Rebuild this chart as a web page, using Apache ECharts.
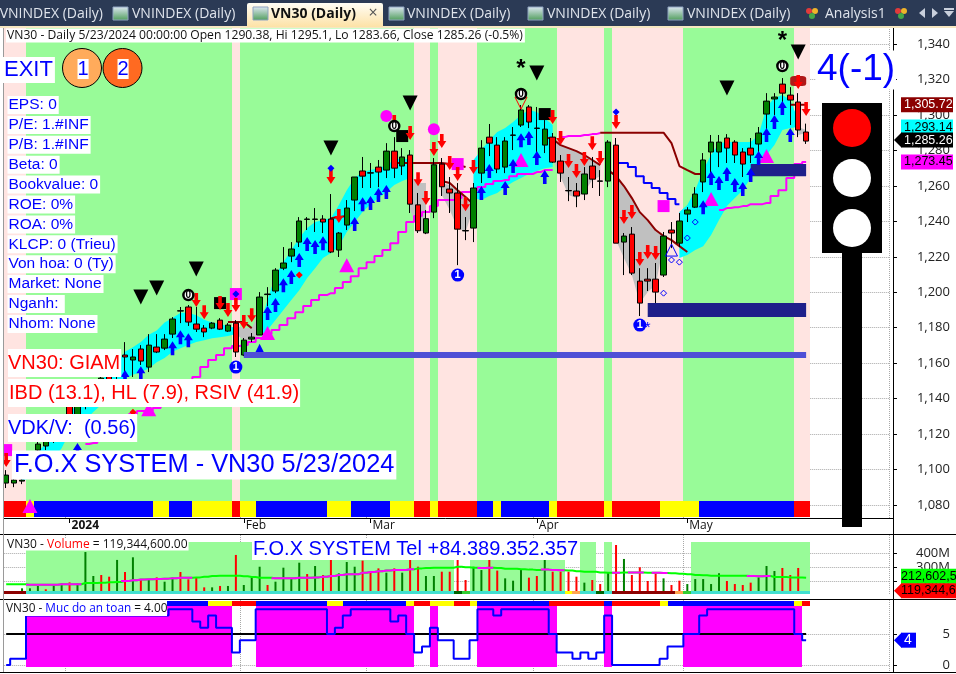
<!DOCTYPE html>
<html>
<head>
<meta charset="utf-8">
<title>VN30 Daily</title>
<script src="https://cdn.jsdelivr.net/npm/echarts@6/dist/echarts.min.js"></script>
<style>
html, body { margin: 0; padding: 0; background: #fff; }
#chart { width: 956px; height: 674px; }
</style>
</head>
<body>
<div id="chart"></div>
<script>
// price (bars 3-14 sit behind the text boxes, estimated)
const opens = [1092.4,1092.4,1093.5,1098.6,1111,1113.3,1117.8,1121.2,1136.4,1130.2,1136.4,1140.3,1143.7,1153.9,1152.7,1164.6,1161.8,1168,1157.8,1169.1,
	1168.5,1176.4,1189.4,1191.7,1182.1,1179.8,1179.8,1184.3,1178.1,1182.6,1164.6,1173.6,1175.9,1198.7,1200.7,1213.6,1220.4,1228.3,1241.1,1241.1,
	1241.3,1241.3,1223.8,1237.9,1252,1268.4,1267.2,1270.6,1268.9,1279.6,1271.2,1277.4,1249.3,1233.4,1245.2,1272.3,1258.2,1256,1234.6,1236.2,
	1267.2,1287.5,1283,1270.6,1288.5,1294.3,1304.5,1292.4,1283,1287.5,1274,1257.2,1257.1,1255.4,1271.2,1262.6,1262.7,1283,1228.3,1232.8,
	1206.3,1207.4,1207.4,1209.7,1235.1,1227.7,1244.1,1248,1262.2,1279.1,1279.1,1287,1284.7,1279.1,1281.3,1283.6,1300.5,1309,1317.4,1311.2,1307.3,1290.38];
const closes = [1096.9,1094.1,1094.1,1102,1114.4,1116.6,1121.2,1127.9,1129,1138,1142,1147.7,1151.6,1148.2,1161.8,1163.5,1163.5,1161.2,1170.2,1166.3,
	1173.6,1184.9,1189.6,1183.2,1179.2,1177.6,1182.6,1179.2,1181.5,1166.3,1173,1174.7,1197.3,1199,1212.5,1216.5,1224.4,1240.2,1241.3,1241.3,
	1239.6,1222.7,1233.4,1247.5,1265,1265.5,1267.4,1267.8,1279.6,1270,1276.3,1249.7,1234.7,1241.5,1271.9,1259.5,1256,1235.6,1234.8,1258.8,
	1281.3,1284.1,1269.5,1285.3,1288.7,1302.8,1296,1292.6,1292,1273.4,1267.2,1257.4,1254.3,1266.7,1263.8,1262.8,1284.7,1227.7,1231.7,1210.8,
	1193.9,1206.3,1200.1,1231.7,1233.4,1240.2,1246.4,1255.4,1274.6,1284.7,1284.7,1281.3,1277.4,1272.3,1277.4,1289.8,1307.8,1310.1,1312.3,1308.4,1291.5,1285.26];
const lows = [1089.6,1090.1,1091.8,1096,1108,1111,1115,1119,1126,1128,1134,1138,1141,1145,1150,1152.2,1152.2,1159,1155,1165.7,
	1167.4,1174.2,1182.6,1181,1177.6,1174.7,1179.2,1178.7,1177.6,1163.5,1164,1171.9,1175.9,1192.2,1199.5,1212.5,1217,1225.5,1235.1,1234,
	1233.4,1222.1,1219.9,1235.1,1245.8,1258.8,1258.8,1259.3,1264.4,1264.4,1266.1,1244.7,1233.4,1232.8,1241.8,1254.3,1244.7,1215.3,1229.4,1228.3,
	1261.6,1276.8,1267.2,1267.2,1280.2,1293.2,1292.6,1278.5,1278.5,1272.9,1262.2,1251.4,1248,1252,1258.8,1254.3,1259.3,1227.7,1209.7,1209.7,
	1186.6,1200.7,1191.7,1208.6,1224.9,1225.5,1239.6,1247.5,1256.5,1267.2,1270.6,1272.9,1272.9,1265,1272.9,1277.4,1289.8,1300,1307.3,1294.3,1287.5,1283.66];
const highs = [1099.7,1095.8,1096.3,1105,1116,1119,1123,1130,1139,1140,1144,1150,1153,1156,1164,1171.9,1168,1170.2,1176.4,1176.4,
	1176.4,1186,1191.7,1192.8,1191.7,1181.5,1183.2,1185.4,1182.6,1184.3,1174.2,1177,1200.1,1202.9,1213.6,1225.5,1228.3,1242.4,1242.4,1247.5,
	1243.5,1255.4,1234,1252,1265,1276.3,1272.9,1274.6,1284.1,1287.5,1281.3,1280.2,1256,1246.4,1275.7,1275.7,1265,1261.6,1242.4,1261.6,
	1285.8,1294.9,1287.5,1287.5,1293.2,1305.6,1305.6,1304.5,1297.1,1289.8,1277.4,1265,1261.6,1270.6,1276.3,1268.9,1285.8,1287,1233.4,1236.8,
	1213.6,1213.6,1216.5,1234,1239.6,1244.7,1248,1259.3,1278.5,1288.7,1288.7,1289.2,1285.8,1281.3,1287,1293.2,1312.3,1312.3,1320.8,1315.7,1312.3,1295.1];

// volume in millions
const volumes = [110,110,147,147,164,140,178,183,190,183,409,236,243,231,352,265,371,212,212,226,
	195,226,265,212,224,154,154,164,164,388,171,226,303,171,195,296,219,332,250,308,
	243,352,255,337,303,347,267,291,260,291,260,352,303,236,236,267,267,352,207,303,
	279,352,275,219,202,279,224,236,352,267,267,267,231,188,207,178,260,460,359,243,
	299,200,260,219,171,202,178,214,214,178,255,200,178,171,188,226,308,272,294,243,294,119.34];
const volumeSide = 'gggggrggrgggrrgrgrgrggrrrrgrgrgggrggggrgrrgggrrrgrgrrggrrrrggrrgggrrgrrrrgrrgrgrrrrgrrgggggrrrrgggrrrr'.split('');
const volumeMa = [176,176,176,173,173,173,173,176,176,176,185.5,185.5,188,190,193,200,205,210,212,214,
	217,219,224,224,226,231,236,238,238,238,234,229,224,224,219,219,219,224,224,226,
	231,236,243,248,248,260,265,270,275,279,279,284,291,294,296,296,296,303,299,296,
	294,296,294,289,289,284,282,279,282,279,277,275,270,267,267,262,260,260,262,262,
	262,260,260,258,255,253,248,243,241,238,238,238,238,238,236,234,236,229,229,226,226,224];
const volumeMaPinkRuns = [[3,9],[15,23],[34,51],[60,61],[68,68],[69,70],[77,77],[79,80],[82,83],[94,96]];

// safety level per bar
const safetyLevel = [0,1,1,8,8,8,8,8,8,8,8,8,8,8,8,8,8,8,8,8,
	8,9,9,9,7,6,8,6,6,2,4,4,9,9,9,9,9,9,9,9,
	9,5,6,8,9,9,9,9,9,7,8,5,2,3,6,4,4,1,1,4,
	9,9,8,9,9,9,9,9,9,5,2,2,1,2,1,2,8,0,0,0,
	0,0,0,1,3,3,5,5,8,9,9,9,9,9,9,9,9,9,9,9,5,4];

// regime strips, as [code, number of bars]
const mainBandRuns = [['P',3],['G',26],['P',1],['G',22],['P',2],['G',1],['P',5],['G',10],['P',6],['G',1],['P',9],['G',14],['P',2]];
const mainStripRuns = [['R',3],['Y',1],['B',15],['Y',2],['B',3],['Y',5],['R',1],['Y',2],['B',9],['Y',3],['B',5],['Y',3],['R',2],['Y',1],['R',5],['B',2],['Y',1],['B',6],['Y',1],['R',6],['Y',1],['R',6],['Y',5],['B',12],['R',2]];
const volumeBandRuns = [['W',3],['G',54],['W',2],['G',12],['W',2],['G',2],['W',1],['G',1],['W',10],['G',15]];
const volumeStripRuns = [['N',3],['T',54],['K',1],['L',1],['T',12],['Y',1],['O',1],['T',2],['K',1],['T',1],['N',8],['O',1],['L',1],['T',15]];
const safetyStripRuns = [['R',3],['B',23],['Y',3],['R',3],['B',9],['Y',2],['B',8],['Y',1],['R',2],['Y',3],['R',2],['Y',1],['B',9],['R',7],['B',1],['R',6],['Y',1],['B',16],['Y',1],['R',1]];

// cloud around the candles: [first bar, upper edge, lower edge]
const cyanClouds = [
	[2,[1095,1102,1110,1114.5,1119,1123.5,1132.5,1136.5,1140.5,1145,1150.5,1155,1160.5,1166.5,1169,1172,1176,1178.5,1183,1185.5,1188.5,1188.5,1187,1184.5,1183,1182,1181,1179.8],
		[1094,1095,1098.5,1102.5,1106.5,1112,1121,1123.5,1128,1132.5,1136.5,1142,1147.5,1151.5,1153.5,1155,1157,1160.5,1163,1166.5,1168.5,1170.2,1172,1173,1174,1174.7,1175.3,1176.4]],
	[32,[1181.5,1195.6,1209.7,1217,1223.8,1230.6,1236.2,1239.6,1240.7,1241.8,1249.2,1257.6,1264.4,1267.8,1268.9,1270,1271.7,1274.6,1275.7,1274.6],
		[1175.3,1178.7,1184.3,1190,1195.6,1201.2,1208,1213.6,1219.3,1222.1,1226,1234,1239.6,1245.2,1249.7,1253.1,1256.5,1260.5,1262.7,1264.4]],
	[59,[1274.6,1280.2,1285.8,1290.4,1292.6,1296,1300,1302.8,1301.6,1298.2,1294.3],
		[1253.1,1252,1254.3,1256,1259.3,1262.2,1264.4,1266.7,1268.4,1270,1270.6]],
	[85,[1245.2,1249.2,1257.6,1268.9,1277.4,1284.1,1284.7,1284.7,1284.7,1284.7,1288.7,1304.5,1309.5,1311.2,1308.4,1297.1],
		[1219.3,1221,1223.8,1226,1232.3,1240.7,1248.6,1253.1,1257.6,1264.4,1271.7,1277.4,1283,1291.5,1292.6,1293.2]]
];
const greyClouds = [
	[29,[1181,1179.8,1179.8,1188.8],[1176.4,1173,1173,1175.3]],
	[51,[1266.1,1261.6,1261.6],[1246.4,1235,1234]],
	[55,[1261.6,1260.5,1257.6,1253.7,1249.2],[1254.8,1246.4,1236.2,1234,1247.5]],
	[69,[1286.4,1283,1281.3,1279.6,1277.4,1274.6,1271.7],[1274.6,1265,1254.8,1253.1,1256.5,1263.3,1265.5]],
	[77,[1265.5,1259.9,1253.1,1245.2,1240.7,1235.1,1231.7],[1229.4,1219.3,1209.7,1193.9,1200.1,1204.1,1226.6]],
	[100,[1293.2,1291.5],[1288.7,1289.8]]
];

// lines: [first bar, values]
const stopRuns = [
	[28,[1183.2,1183.2,1183.2,1179.8]],
	[41,[1241.8,1242.4,1243]],
	[49,[1272.9,1272.9,1272.9,1272.9,1272.9,1272.9,1272.9,1272.3,1271.7,1270.6]],
	[55,[1262.7,1261.6,1257.6,1253.7,1249.7]],
	[68,[1287.5,1286.4,1283,1281.3,1279.6,1277.4,1274.6,1271.7]],
	[76,[1268.9,1265.5,1259.9,1253.1,1245.2,1240.7,1235.1,1231.7,1229.4,1226,1222.7]],
	[75,[1290,1290,1290,1290,1290,1290,1290,1290,1290,1284.1,1271.2,1268.9,1266.7,1266.7]],
	[99,[1305.72,1305.72,1305.72]]
];
const trailRuns = [
	[10,[1114.4,1115,1116.6,1121.2,1123.4,1127.9,1131.3,1133,1133,1134.7,1137,1140.3,1143.7,1147.7,1152.2,1157.8,1161.8,1164.6,1168.5,1169.7,
		1170.2,1171.9,1174.2,1176.4,1178.7,1181.5,1185.4,1188.8,1192.2,1195.6,1198.4,1199.5,1202.4,1205.8,1209.1,1213.6,1217,1220.4,1223.8,1227.7,
		1234,1239.6,1243,1245.2,1248.6,1252,1252,1253.1,1256.5,1257.6,1259.3,1261,1262.7,1263.3,1265.5,1266.7,1266.7,1267.8,1268.9,1268.9]],
	[70,[1287.5,1288.1,1288.1,1288.7,1289.2,1289.8]],
	[90,[1246.4,1247.5,1248,1248.6,1249.7,1249.7,1250.3,1254.3,1257.6,1264.4,1272.3,1273.45]]
];
const blueStepStart = 77;
const blueStep = [1272.9,1272.9,1270.6,1265.5,1261.6,1258.8,1256,1252.6,1249.7];

// support zones: [first bar, last bar, top, bottom]
const zones = [[30,101,1166.3,1162.9],[81,101,1193.9,1186],[94,101,1272.3,1265.5]];

// signals: [bar, price]
const buyArrows = [[9,1111],[15,1152.2],[17,1154.4],[21,1168.5],[22,1174.7],[23,1173],[33,1188.3],[34,1192.8],[35,1204],[36,1208.6],[37,1218.2],[38,1227.2],[39,1225.5],[40,1227.7],[44,1238.5],[45,1249.7],[46,1250.3],[47,1254.8],[48,1256.5],
	[60,1256],[61,1268.4],[63,1258.8],[64,1271.2],[65,1285.8],[66,1287],[67,1275.7],[68,1265],[88,1248],[89,1264.4],[90,1261.6],[91,1266.7],[92,1260.5],[93,1258.2],[94,1266.1],[95,1275.7],[96,1288.7],[97,1296],[98,1303.9],[99,1288.7]];
const sellArrows = [[0,1105.4],[24,1195.6],[25,1188.8],[27,1193.9],[28,1190],[29,1192.8],[30,1183.2],[31,1187.1],[41,1265],[42,1243],[49,1296],[51,1289.8],[52,1263.8],[53,1253.1],[54,1280.8],[55,1285.3],[56,1272.9],[57,1266.7],[58,1249.7],[59,1270.6],
	[69,1298.8],[70,1287],[71,1274],[72,1268.4],[73,1275.1],[74,1284.1],[75,1275.7],[77,1296],[78,1242.4],[79,1245.2],[80,1218.7],[81,1222.7],[82,1222.1],[100,1318.6],[101,1303.3]];
const blackTriangles = [[17,1197.3],[19,1202.4],[24,1213.1],[41,1281.3],[51,1306.7],[67,1323.6],[91,1315.2],[100,1335.5]];
const zeroCircles = [[23,1198.4],[49,1293.7],[65,1311.8],[98,1327.6]];
const oneCircles = [[29,1157.8],[57,1209.7],[80,1181.5]];
const blackSquares = [[27,1193.9],[50,1288.1],[68,1300.5]];
const pinkSquares = [[0,1111],[29,1199],[57,1272.3],[83,1248.6]];
const pinkDots = [[48,1299.4],[54,1292]];
const pinkTriangles = [[3,1079.4],[18,1134.1],[33,1177],[43,1215.3],[65,1274.6],[89,1252.6],[96,1276.8]];
const stars = [[65,1328.7],[98,1344.5]];
const blueDiamonds = [[41,1270],[29,1199],[77,1301.6]];
const redDiamonds = [[16,1132.4],[37,1209.7]];
const hollowDiamonds = [[83,1199.5],[84,1218.2],[85,1217],[86,1230.6],[87,1239.6]];
const hollowBlueTriangles = [[84,1223.8]];
const hollowRedTriangles = [[65,1306.7]];
const smallBlueTriangles = [[32,1168.5]];
const blueFlakes = [[81,1181.5]];
const brickBoxes = [[100,1319.1]];

const monthTicks = {8: '2024', 30: 'Feb', 46: 'Mar', 67: 'Apr', 86: 'May'};
const priceTicks = [1080,1100,1120,1140,1160,1180,1200,1220,1240,1260,1280,1300,1320,1340];
const volumeTicks = [200,300,400];
const safetyTicks = [0,5];
const priceTags = [1305.72,1293.14,1285.26,1273.45];
const volumeTags = [212.6,119.34];

const infoLines = ['EPS: 0','P/E: 1.#INF','P/B: 1.#INF','Beta: 0','Bookvalue: 0','ROE: 0%','ROA: 0%','KLCP: 0 (Trieu)','Von hoa: 0 (Ty)','Market: None','Nganh: ','Nhom: None'];

const barCount = 112;
const bandWidth = 7.92;
const SANS = '"Liberation Sans", Arial, sans-serif';
const UI = '"Open Sans", sans-serif';
const palette = {
	P: '#ffe4e1', G: '#98fb98', R: '#ff0000', Y: '#ffff00', B: '#0000ff',
	T: '#40e0d0', N: '#8b0000', K: '#006400', L: '#32cd32', O: '#ffa54f', M: '#ff00ff'
};

const expand = function (runs) {
	let out = [];
	runs.forEach(function (r) {
		for (let k = 0; k < r[1]; k++) out.push(r[0]);
	});
	return out;
};

const categories = Array.from({length: barCount}, function (_, i) { return String(i); });
const showMonth = function (i) { return monthTicks[i] !== undefined; };

// a row of coloured cells, one per bar, stuck to the grid by pixel offsets
const stripSeries = function (gridIdx, codes, topPad, height, z) {
	return {
		type: 'custom',
		xAxisIndex: gridIdx,
		yAxisIndex: gridIdx,
		z: z,
		silent: true,
		data: codes.map(function (c, i) { return [i]; }),
		renderItem: function (params, api) {
			const color = palette[codes[params.dataIndex]];
			if (!color) return null;
			const cs = params.coordSys;
			const cx = api.coord([params.dataIndex, 0])[0];
			const x0 = Math.round(cx - bandWidth / 2);
			const x1 = Math.round(cx + bandWidth / 2);
			return {
				type: 'rect',
				shape: {x: x0, y: cs.y + topPad, width: x1 - x0, height: height < 0 ? cs.height + height - topPad : height},
				style: {fill: color}
			};
		}
	};
};

const cloudSeries = function (cloud, color) {
	return {
		type: 'custom',
		xAxisIndex: 0,
		yAxisIndex: 0,
		z: 3,
		silent: true,
		data: [[cloud[0]]],
		renderItem: function (params, api) {
			const start = cloud[0];
			const upper = cloud[1].map(function (v, k) { return api.coord([start + k, v]); });
			const lower = cloud[2].map(function (v, k) { return api.coord([start + k, v]); }).reverse();
			return {type: 'polygon', shape: {points: upper.concat(lower)}, style: {fill: color}};
		}
	};
};

const runLine = function (start, values, color, width, step, z) {
	return {
		type: 'line',
		xAxisIndex: 0,
		yAxisIndex: 0,
		z: z,
		silent: true,
		symbol: 'none',
		step: step,
		lineStyle: {color: color, width: width},
		data: values.map(function (v, k) { return [start + k, v]; })
	};
};

const marks = function (data, symbol, size, color, extra) {
	return Object.assign({
		type: 'scatter',
		xAxisIndex: 0,
		yAxisIndex: 0,
		z: 6,
		silent: true,
		symbol: symbol,
		symbolSize: size,
		itemStyle: {color: color, opacity: 1},
		data: data
	}, extra || {});
};

const ARROW = 'path://M4.5 0 L9 7 L6.3 7 L6.3 14 L2.7 14 L2.7 7 L0 7 Z';

const tagSeries = function (gridIdx, values, look) {
	return {
		type: 'custom',
		xAxisIndex: gridIdx,
		yAxisIndex: gridIdx,
		z: 9,
		silent: true,
		clip: false,
		data: values.map(function (v) { return [0, v]; }),
		renderItem: function (params, api) {
			const t = look[params.dataIndex];
			const y = api.coord([0, values[params.dataIndex]])[1] + (t.nudge || 0);
			const h = t.h || 15;
			const kids = [{
				type: 'rect',
				shape: {x: t.arrow ? 901 : t.x0 || 901, y: y - h / 2, width: t.w || 52, height: h},
				style: {fill: t.bg}
			}];
			if (t.arrow) {
				kids.push({type: 'polygon', shape: {points: [[894, y], [901.5, y - h / 2], [901.5, y + h / 2]]}, style: {fill: t.bg}});
			}
			kids.push({
				type: 'text',
				style: {text: t.text, x: t.tx || 904, y: y, fill: t.fg, font: (t.size || 12.5) + 'px ' + SANS, verticalAlign: 'middle', align: t.align || 'left'}
			});
			return {type: 'group', children: kids};
		}
	};
};

const priceTagLook = [
	{bg: '#8b0000', fg: '#fff', text: '1,305.72'},
	{bg: '#00ffff', fg: '#000', text: '1,293.14'},
	{bg: '#000', fg: '#fff', text: '1,285.26', arrow: true, nudge: -1},
	{bg: '#ff00ff', fg: '#000', text: '1,273.45'}
];
const volumeTagLook = [
	{bg: '#00ff00', fg: '#000', text: '212,602,5', nudge: -3, w: 56, tx: 901},
	{bg: '#ff0000', fg: '#000', text: '119,344,6', nudge: -1.5, w: 56, tx: 901, arrow: true}
];
const safetyTagLook = [
	{bg: '#0000ff', fg: '#fff', text: '4', arrow: true, w: 15, tx: 908, align: 'center', size: 14}
];

// ---- pixel boxes for the overlay texts
const box = function (text, x, y, font, fill, pad) {
	return {
		type: 'text',
		z: 100,
		style: {
			text: text, x: x, y: y, font: font, fill: fill,
			verticalAlign: 'middle', backgroundColor: '#fff', padding: pad || [2, 2, 2, 2]
		}
	};
};

const overlay = [];
// tab strip
overlay.push({type: 'rect', z: 90, shape: {x: 0, y: 0, width: 956, height: 26}, style: {fill: '#2b3a55'}});
overlay.push({type: 'rect', z: 90, shape: {x: 0, y: 26, width: 956, height: 2}, style: {fill: '#f6e7c1'}});
overlay.push({
	type: 'rect', z: 91, shape: {x: 247, y: 3, width: 136, height: 24, r: [2, 2, 0, 0]},
	style: {fill: new echarts.graphic.LinearGradient(0, 0, 0, 1, [{offset: 0, color: '#fffdf5'}, {offset: 1, color: '#fde2a6'}])}
});
[[113, 132], [389, 407], [528, 547], [668, 687]].forEach(function (t) {
	overlay.push({
		type: 'rect', z: 91, shape: {x: t[0], y: 7, width: 15, height: 13},
		style: {fill: new echarts.graphic.LinearGradient(0, 0, 0, 1, [{offset: 0, color: '#dfe8f5'}, {offset: 1, color: '#4f9d5a'}]), stroke: '#8fa3bf'}
	});
	overlay.push({type: 'text', z: 92, style: {text: 'VNINDEX (Daily)', x: t[1], y: 14, font: '14px ' + UI, fill: '#dfe4ec', verticalAlign: 'middle'}});
});
overlay.push({type: 'text', z: 92, style: {text: 'VNINDEX (Daily)', x: 103, y: 14, align: 'right', font: '14px ' + UI, fill: '#dfe4ec', verticalAlign: 'middle'}});
overlay.push({
	type: 'rect', z: 92, shape: {x: 253, y: 7, width: 15, height: 13},
	style: {fill: new echarts.graphic.LinearGradient(0, 0, 0, 1, [{offset: 0, color: '#dfe8f5'}, {offset: 1, color: '#4f9d5a'}]), stroke: '#8fa3bf'}
});
overlay.push({type: 'text', z: 92, style: {text: 'VN30 (Daily)', x: 271, y: 14, font: 'bold 14px ' + UI, fill: '#111', verticalAlign: 'middle'}});
overlay.push({type: 'text', z: 92, style: {text: '×', x: 373, y: 13, align: 'center', font: '16px ' + UI, fill: '#555', verticalAlign: 'middle'}});
[[806, 9], [895, 9]].forEach(function (t) {
	overlay.push({type: 'circle', z: 92, shape: {cx: t[0] + 3, cy: t[1] + 2, r: 3}, style: {fill: '#e23b3b'}});
	overlay.push({type: 'circle', z: 92, shape: {cx: t[0] + 9, cy: t[1] + 2, r: 3}, style: {fill: '#f0b429'}});
	overlay.push({type: 'circle', z: 92, shape: {cx: t[0] + 6, cy: t[1] + 7, r: 3}, style: {fill: '#45a847'}});
});
overlay.push({type: 'text', z: 92, style: {text: 'Analysis1', x: 825, y: 14, font: '14px ' + UI, fill: '#dfe4ec', verticalAlign: 'middle'}});
overlay.push({type: 'polygon', z: 92, shape: {points: [[925, 8], [925, 18], [919, 13]]}, style: {fill: '#c9d0dc'}});
overlay.push({type: 'polygon', z: 92, shape: {points: [[932, 8], [932, 18], [938, 13]]}, style: {fill: '#c9d0dc'}});
overlay.push({type: 'polygon', z: 92, shape: {points: [[944, 11], [954, 11], [949, 17]]}, style: {fill: '#c9d0dc'}});
overlay.push({type: 'rect', z: 92, shape: {x: 944, y: 8, width: 10, height: 2}, style: {fill: '#c9d0dc'}});

// frame
overlay.push({type: 'rect', z: 49, shape: {x: 0, y: 28, width: 4, height: 646}, style: {fill: '#fff'}});
[[0, 534, 956, 534], [0, 599, 956, 599], [0, 672, 956, 672], [889, 518, 894, 518]].forEach(function (l) {
	overlay.push({type: 'line', z: 50, shape: {x1: l[0], y1: l[1] + 0.5, x2: l[2], y2: l[3] + 0.5}, style: {stroke: '#000', lineWidth: 1}});
});
overlay.push({type: 'line', z: 50, shape: {x1: 893.5, y1: 28, x2: 893.5, y2: 672}, style: {stroke: '#000', lineWidth: 1}});
overlay.push({type: 'line', z: 50, shape: {x1: 3.5, y1: 28, x2: 3.5, y2: 672}, style: {stroke: '#9a9a9a', lineWidth: 1}});

// traffic light
overlay.push({type: 'rect', z: 60, shape: {x: 822, y: 103, width: 60, height: 150}, style: {fill: '#000'}});
overlay.push({type: 'rect', z: 60, shape: {x: 842, y: 253, width: 20, height: 274}, style: {fill: '#000'}});
overlay.push({type: 'circle', z: 61, shape: {cx: 852, cy: 128, r: 19}, style: {fill: '#ff0000'}});
overlay.push({type: 'circle', z: 61, shape: {cx: 852, cy: 178, r: 19}, style: {fill: '#fff'}});
overlay.push({type: 'circle', z: 61, shape: {cx: 852, cy: 228, r: 19}, style: {fill: '#fff'}});
overlay.push(box('4(-1)', 816, 70, '37px ' + SANS, '#0000ff', [1, 1, 1, 1]));

// header and labels
overlay.push(box('VN30 - Daily 5/23/2024 00:00:00 Open 1290.38, Hi 1295.1, Lo 1283.66, Close 1285.26 (-0.5%)', 6, 35.5, '12.15px ' + UI, '#111', [1, 2, 1, 1]));
overlay.push(box('EXIT', 3, 70, '22px ' + SANS, '#0000ff', [2, 2, 2, 1]));
overlay.push({type: 'circle', z: 99, shape: {cx: 82, cy: 68, r: 19.5}, style: {fill: '#ffab5b', stroke: '#000', lineWidth: 1}});
overlay.push({type: 'circle', z: 99, shape: {cx: 122.5, cy: 68, r: 19.5}, style: {fill: '#ff6a21', stroke: '#000', lineWidth: 1}});
overlay.push(box('1', 77.5, 69, '20px ' + SANS, '#0000ff', [0, 0, 0, 0]));
overlay.push(box('2', 117.5, 69, '20px ' + SANS, '#0000ff', [0, 0, 0, 0]));
infoLines.forEach(function (t, k) {
	overlay.push(box(t, 7.5, 105 + k * 19.9, '15.5px ' + SANS, '#0000ff', [1, 2, 1, 1]));
});
overlay.push(box('VN30: GIAM', 8, 363, '20px ' + SANS, '#ff0000', [4, 1, 4, 0]));
overlay.push(box('IBD (13.1), HL (7.9), RSIV (41.9)', 8, 393, '20px ' + SANS, '#ff0000', [4, 1, 4, 1]));
overlay.push(box('VDK/V:  (0.56)', 8, 428, '20px ' + SANS, '#0000ff', [4, 1, 4, 0]));
overlay.push(box('F.O.X SYSTEM - VN30 5/23/2024', 12, 465, '25.35px ' + SANS, '#0000ff', [2, 2, 2, 2]));
overlay.push(box('F.O.X SYSTEM Tel +84.389.352.357', 252, 549, '20px ' + SANS, '#0000ff', [1, 1, 1, 1]));
overlay.push({
	type: 'text', z: 100,
	style: {
		text: '{a|VN30 - }{r|Volume}{a| = 119,344,600.00}', x: 6, y: 544.5, verticalAlign: 'middle', backgroundColor: '#fff', padding: [0, 1, 0, 1],
		rich: {a: {font: '12px ' + UI, fill: '#111'}, r: {font: '12px ' + UI, fill: '#ff0000'}}
	}
});
overlay.push({type: 'rect', z: 99, shape: {x: 4, y: 600, width: 163, height: 16}, style: {fill: '#fff'}});
overlay.push({
	type: 'text', z: 100,
	style: {
		text: '{a|VN30 - }{b|Muc do an toan}{a| = 4.00}', x: 6, y: 608.5, verticalAlign: 'middle',
		rich: {a: {font: '11.8px ' + UI, fill: '#111'}, b: {font: '11.8px ' + UI, fill: '#0000ff'}}
	}
});

const xAxisFor = function (gridIdx, withLabels) {
	return {
		type: 'category',
		gridIndex: gridIdx,
		data: categories,
		boundaryGap: true,
		axisLine: {show: withLabels, lineStyle: {color: '#000', width: 1}},
		axisTick: {show: withLabels, alignWithLabel: true, length: 5, interval: showMonth, lineStyle: {color: '#000'}},
		axisLabel: {
			show: withLabels,
			interval: showMonth,
			align: 'left',
			margin: 2,
			padding: [0, 0, 0, 2],
			color: '#111',
			fontFamily: UI,
			fontSize: 12,
			formatter: function (v) {
				const m = monthTicks[v];
				return m === '2024' ? '{y|2024}' : m;
			},
			rich: {y: {fontWeight: 'bold', fontSize: 12, fontFamily: UI, color: '#111'}}
		},
		splitLine: {show: true, interval: showMonth, lineStyle: {color: '#a8a8a8', type: 'dotted'}}
	};
};

const yAxisFor = function (gridIdx, min, max, ticks, formatter) {
	return {
		type: 'value',
		gridIndex: gridIdx,
		position: 'right',
		offset: 4.7,
		min: min,
		max: max,
		axisLine: {show: false},
		axisTick: {show: true, length: 3, customValues: ticks, lineStyle: {color: '#000'}},
		axisLabel: {
			show: true,
			customValues: ticks,
			align: 'right',
			margin: 56,
			color: '#222',
			fontFamily: UI,
			fontSize: 13,
			formatter: formatter
		},
		splitLine: {show: true, lineStyle: {color: '#a8a8a8', type: 'dotted'}}
	};
};

const volumeMaPink = volumeMa.map(function (v, i) {
	return volumeMaPinkRuns.some(function (r) { return i >= r[0] && i <= r[1]; }) ? v : null;
});

const series = [];
series.push(stripSeries(0, expand(mainBandRuns), 0, -17, 1));
series.push(stripSeries(0, expand(mainStripRuns), 474, 16, 2));
cyanClouds.forEach(function (c) { series.push(cloudSeries(c, '#00ffff')); });
greyClouds.forEach(function (c) { series.push(cloudSeries(c, '#c0c0c0')); });
trailRuns.forEach(function (r) { series.push(runLine(r[0], r[1], '#ff00ff', 2, 'middle', 4)); });
stopRuns.forEach(function (r) { series.push(runLine(r[0], r[1], '#8b0000', 2, false, 4)); });
series.push(runLine(blueStepStart, blueStep, '#0000ff', 2, 'middle', 4));
series.push({
	type: 'candlestick',
	xAxisIndex: 0,
	yAxisIndex: 0,
	z: 5,
	silent: true,
	barWidth: 6,
	itemStyle: {color: '#008000', color0: '#ff0000', borderColor: '#000', borderColor0: '#000', borderWidth: 1, opacity: 1},
	data: opens.map(function (o, i) { return [o, closes[i], lows[i], highs[i]]; })
});
const hollowBlue = {color: 'transparent', borderColor: '#0000ff', borderWidth: 1, opacity: 1};
series.push(marks(pinkSquares, 'rect', 12, '#ff00ff'));
series.push(marks(pinkDots, 'circle', 12, '#ff00ff'));
series.push(marks(pinkTriangles, 'triangle', [15, 14], '#ff00ff'));
series.push(marks(blackSquares, 'rect', 12, '#000'));
series.push(marks(brickBoxes, 'roundRect', [16, 10], '#b01818', {z: 6}));
series.push(marks(buyArrows, ARROW, [9, 14], '#0000ff', {z: 7}));
series.push(marks(sellArrows, ARROW, [9, 14], '#ff0000', {z: 7, symbolRotate: 180}));
series.push(marks(blackTriangles, 'triangle', [15, 15], '#000', {symbolRotate: 180}));
series.push(marks(smallBlueTriangles, 'triangle', [9, 9], '#0000ff'));
series.push(marks(blueDiamonds, 'diamond', 7, '#0000ff', {z: 8}));
series.push(marks(redDiamonds, 'diamond', 7, '#ff0000'));
series.push(marks(hollowDiamonds, 'diamond', 6, '#fff', {itemStyle: hollowBlue}));
series.push(marks(hollowBlueTriangles, 'triangle', [12, 12], '#fff', {itemStyle: hollowBlue}));
series.push(marks(hollowRedTriangles, 'triangle', [12, 12], '#fff', {symbolRotate: 180, itemStyle: {color: 'transparent', borderColor: '#ff0000', borderWidth: 1, opacity: 1}}));
series.push(marks(zeroCircles, 'circle', 10, '#fff', {
	z: 8,
	itemStyle: {color: '#fff', borderColor: '#000', borderWidth: 2.5, opacity: 1},
	label: {show: true, position: 'inside', formatter: '0', fontSize: 10, fontWeight: 'bold', color: '#000', fontFamily: SANS}
}));
series.push(marks(oneCircles, 'circle', 13, '#0000ff', {
	z: 8,
	label: {show: true, position: 'inside', formatter: '1', fontSize: 11, fontWeight: 'bold', color: '#fff', fontFamily: SANS}
}));
series.push(marks(stars, 'circle', 4, 'transparent', {
	z: 8,
	label: {show: true, position: 'inside', formatter: '*', fontSize: 24, fontWeight: 'bold', color: '#000', fontFamily: SANS, offset: [0, 5]}
}));
series.push(marks(blueFlakes, 'circle', 4, 'transparent', {
	z: 8,
	label: {show: true, position: 'inside', formatter: '*', fontSize: 15, color: '#0000ff', fontFamily: SANS, offset: [0, 3]}
}));
series.push({
	type: 'custom',
	xAxisIndex: 0,
	yAxisIndex: 0,
	z: 7,
	silent: true,
	data: zones.map(function (z, k) { return [k]; }),
	renderItem: function (params, api) {
		const z = zones[params.dataIndex];
		const a = api.coord([z[0], z[2]]);
		const b = api.coord([z[1], z[3]]);
		return {
			type: 'rect',
			shape: {x: a[0], y: a[1], width: b[0] - a[0], height: b[1] - a[1]},
			style: {fill: params.dataIndex === 0 ? '#4f4fd6' : '#1f1f8a'}
		};
	}
});
series.push(tagSeries(0, priceTags, priceTagLook));

// volume pane
series.push(stripSeries(1, expand(volumeBandRuns), 7, 51, 1));
series.push({
	type: 'bar',
	xAxisIndex: 1,
	yAxisIndex: 1,
	z: 3,
	silent: true,
	barWidth: 2,
	itemStyle: {
		color: function (p) { return volumeSide[p.dataIndex] === 'g' ? '#008000' : '#ff0000'; }
	},
	data: volumes
});
series.push(stripSeries(1, expand(volumeStripRuns), 56, 3, 4));
series.push({
	type: 'line', xAxisIndex: 1, yAxisIndex: 1, z: 5, silent: true, symbol: 'none', step: 'middle',
	lineStyle: {color: '#00ff00', width: 2}, data: volumeMa
});
series.push({
	type: 'line', xAxisIndex: 1, yAxisIndex: 1, z: 6, silent: true, symbol: 'none', step: 'middle',
	lineStyle: {color: '#ff00ff', width: 2}, data: volumeMaPink
});
series.push(tagSeries(1, volumeTags, volumeTagLook));

// safety pane
series.push(stripSeries(2, safetyLevel.map(function (v) { return v >= 5 ? 'M' : 'W'; }), 6, 61, 1));
series.push(stripSeries(2, expand(safetyStripRuns), 1, 5, 2));
series.push({
	type: 'line', xAxisIndex: 2, yAxisIndex: 2, z: 3, silent: true, symbol: 'none',
	lineStyle: {color: '#000', width: 2},
	data: safetyLevel.map(function () { return 5; })
});
series.push({
	type: 'line', xAxisIndex: 2, yAxisIndex: 2, z: 4, silent: true, symbol: 'none', step: 'middle',
	lineStyle: {color: '#0000ff', width: 2}, data: safetyLevel
});
series.push(tagSeries(2, [safetyLevel[safetyLevel.length - 1]], safetyTagLook));

const chart = echarts.init(document.getElementById('chart'));
chart.setOption({
	animation: false,
	backgroundColor: '#fff',
	grid: [
		{left: 2.24, width: bandWidth * barCount, top: 27, height: 491},
		{left: 2.24, width: bandWidth * barCount, top: 535, height: 59},
		{left: 2.24, width: bandWidth * barCount, top: 600, height: 72}
	],
	xAxis: [xAxisFor(0, true), xAxisFor(1, false), xAxisFor(2, false)],
	yAxis: [
		yAxisFor(0, 1072.7, 1349.6, priceTicks, function (v) { return v.toLocaleString('en-US'); }),
		yAxisFor(1, 106, 532, volumeTicks, function (v) { return v + 'M'; }),
		yAxisFor(2, -1.13, 10.48, safetyTicks, function (v) { return String(v); })
	],
	series: series,
	graphic: {elements: overlay}
});
</script>
</body>
</html>
